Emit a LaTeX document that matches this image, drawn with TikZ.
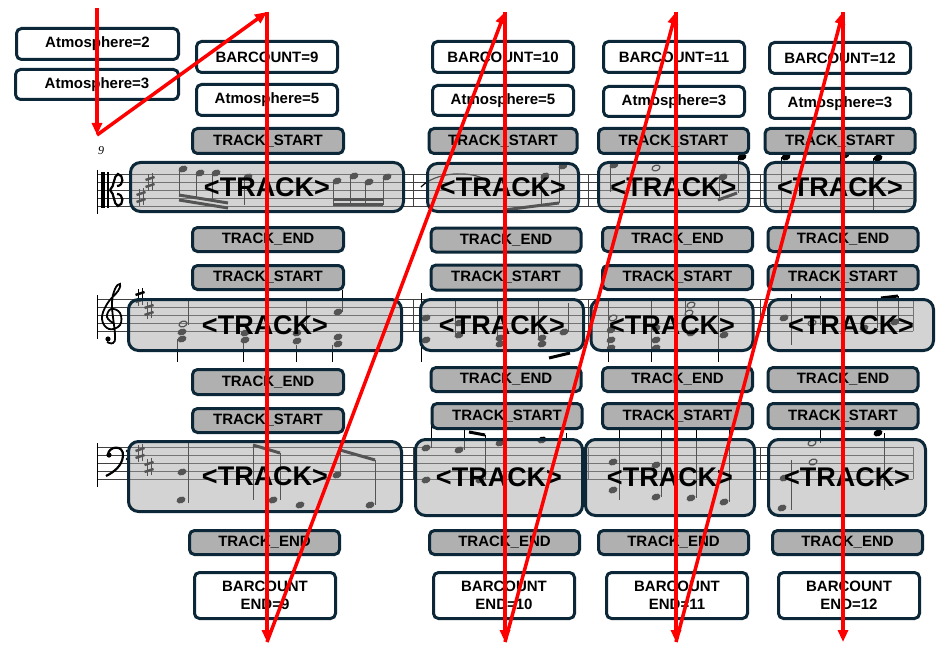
\documentclass[tikz,border=0pt]{standalone}
\usepackage{fontspec}
\setmainfont{Liberation Sans}
\newfontfamily\numfont{Liberation Serif}
\usetikzlibrary{arrows.meta}
\definecolor{boxline}{RGB}{12,40,56}
\definecolor{markgray}{RGB}{176,176,176}
\definecolor{trackgray}{RGB}{168,168,168}
\tikzset{
  sz/.style 2 args={minimum width=#1,minimum height=#2},
  infobox/.style={draw=boxline,line width=3pt,rounded corners=5pt,fill=white,
    inner sep=0pt,align=center,font=\fontsize{15}{18}\selectfont\bfseries},
  markbox/.style={infobox,fill=markgray},
  trackbox/.style={draw=boxline,line width=3pt,rounded corners=10pt,fill=trackgray,
    fill opacity=0.5,text opacity=1,inner sep=0pt,font=\fontsize{27}{30}\selectfont\bfseries},
  flow/.style={red,line width=3.5pt,-{Triangle[length=12pt,width=10pt]}},
  staffline/.style={black!75,line width=0.9pt},
  sharpsym/.pic={
    \draw[line width=0.9pt] (-2,-8) -- (-2,9) (2,-9) -- (2,8);
    \draw[line width=2.4pt] (-4.5,-2) -- (4.5,-5) (-4.5,5) -- (4.5,2);
  }
}
\begin{document}
\begin{tikzpicture}[x=1pt,y=-1pt]
\useasboundingbox (0,0) rectangle (949,655);

% staves, bar lines, clefs
\foreach \s in {174,299,447}{
  \foreach \k in {0,...,4} \draw[staffline] (97,{\s+8*\k}) -- (913,{\s+8*\k});
  \foreach \x in {413,588,760,913} \draw[staffline] (\x,\s) -- (\x,{\s+32});
  \draw[line width=1pt] (97,{\s-4}) -- (97,{\s+40});
}
\fill (101,172) rectangle (105,208);
\fill (107,172) rectangle (108.5,208);
\draw[line width=2.2pt] (110,190) .. controls (115,186) and (113,176) .. (118,174) .. controls (124,175) and (124,186) .. (117,186);
\draw[line width=2.2pt] (110,190) .. controls (115,194) and (113,204) .. (118,206) .. controls (124,205) and (124,194) .. (117,194);
\draw[line width=1.8pt] plot[smooth,tension=0.7] coordinates {(113,323) (107,317) (111,309) (120,313) (120,325) (109,329) (102,319) (107,304) (118,291) (120,284) (115,289) (112,305) (115,335) (113,343) (107,342)};
\fill (108,339) circle (2.6);
\fill (109,455) circle (2.6);
\draw[line width=2.2pt] (108,455) .. controls (108,446) and (124,444) .. (123,456) .. controls (122,466) and (114,472) .. (106,476);
\fill (127,451) circle (1.4) (127,459) circle (1.4);
\foreach \x/\y [count=\i] in {141/197,150/182,140/297,149/310,140/453,149/467}
  \pic (sharp\i) at (\x,\y) {sharpsym};
\node[font=\numfont\itshape\fontsize{12}{12}\selectfont] (barnum) at (101,151) {9};

% notes
\foreach \x/\y in {183/169,200/173,216/173,248/177,337/181,354/176,369/182,387/177,
  545/176,563/166,614/165,723/177,742/157,786/157,845/155,878/158,
  182/332,182/339,245/333,245/340,297/333,297/341,338/312,338/337,338/344,
  426/318,426/340,459/323,459/335,500/338,500/344,542/338,542/344,564/332,
  611/330,611/340,611/348,656/328,656/340,656/348,691/333,724/335,784/318,864/328,895/322,
  182/472,181/500,273/500,300/505,337/475,370/505,
  426/448,426/480,459/450,480/480,500/443,542/440,
  613/462,613/490,656/465,656/497,691/498,724/502,784/478,782/508,878/433}
  \fill[rotate around={20:(\x,\y)}] (\x,\y) ellipse (4.6 and 3.3);
\foreach \x/\y in {183/324,613/318,691/305,689/313,812/323,812/443,813/462,656/168}
  \draw[line width=1.2pt,rotate around={20:(\x,\y)}] (\x,\y) ellipse (4.1 and 2.8);
\foreach \x/\a/\b in {179/170/197,196/174/199,212/174/202,244/178/205,
  333/182/205,350/177/205,365/183/205,383/178/205,541/177/206,559/167/203,
  610/166/192,719/178/200,738/157/193,781/157/212,840/155/212,873/158/212,
  188/300/325,177/339/362,243/341/362,306/300/330,296/345/362,342/290/312,332/345/362,
  421/293/362,455/300/335,497/300/340,538/300/340,568/303/332,
  608/300/362,651/300/362,685/300/333,718/300/362,791/294/345,820/296/325,877/298/328,898/296/322,
  188/443/503,253/445/500,280/453/500,340/450/475,375/460/505,
  431/425/448,464/428/450,485/435/480,505/425/443,566/433/440,
  619/430/500,661/430/497,696/430/498,729/430/502,791/460/510,820/425/443,884/433/490}
  \draw[line width=0.9pt] (\x,\a) -- (\x,\b);
\foreach \a/\b/\c/\d in {179/195/228/203,179/200/228/208,333/199/383/199,333/204/383/204,
  504/210/559/203,718/200/737/193,549/358/570/353,881/298/898/296,
  253/445/280/453,340/450/375/460,469/432/485/435}
  \draw[line width=3pt] (\a,\b) -- (\c,\d);
\draw[line width=1.2pt] (421,187) .. controls (435,172) and (470,170) .. (486,180);

% column of bar 9
\node[infobox,sz={162}{31}] (atmA) at (97.5,44) {Atmosphere=2};
\node[infobox,sz={163}{30}] (atmB) at (97,84.5) {Atmosphere=3};
\node[infobox,sz={141}{31}] (bc9) at (267,57) {BARCOUNT=9};
\node[infobox,sz={141}{31}] (atm9) at (267,100) {Atmosphere=5};
\node[markbox,sz={151}{25}] (ts9a) at (268,141) {TRACK\_START};
\node[trackbox,sz={273}{49}] (trk9a) at (267,187) {<TRACK>};
\node[markbox,sz={151}{24}] (te9a) at (268,239.5) {TRACK\_END};
\node[markbox,sz={151}{24}] (ts9b) at (268,277.5) {TRACK\_START};
\node[trackbox,sz={273}{51}] (trk9b) at (265,325) {<TRACK>};
\node[markbox,sz={151}{25}] (te9b) at (268,382) {TRACK\_END};
\node[markbox,sz={151}{24}] (ts9c) at (268,420.5) {TRACK\_START};
\node[trackbox,sz={273}{70}] (trk9c) at (265,476.5) {<TRACK>};
\node[markbox,sz={150}{24}] (te9c) at (264.5,542.5) {TRACK\_END};
\node[infobox,sz={141}{46}] (bce9) at (265,595.5) {BARCOUNT\\END=9};

% column of bar 10
\node[infobox,sz={141}{31}] (bc10) at (503,57) {BARCOUNT=10};
\node[infobox,sz={141}{30}] (atm10) at (503,100.5) {Atmosphere=5};
\node[markbox,sz={148}{25}] (ts10a) at (503,141) {TRACK\_START};
\node[trackbox,sz={151}{48}] (trk10a) at (503,187.5) {<TRACK>};
\node[markbox,sz={150}{24}] (te10a) at (506,240) {TRACK\_END};
\node[markbox,sz={150}{25}] (ts10b) at (506,277.5) {TRACK\_START};
\node[trackbox,sz={163}{51}] (trk10b) at (502,325) {<TRACK>};
\node[markbox,sz={150}{24}] (te10b) at (506,379.5) {TRACK\_END};
\node[markbox,sz={150}{25}] (ts10c) at (507,416) {TRACK\_START};
\node[trackbox,sz={167}{76}] (trk10c) at (499,477.5) {<TRACK>};
\node[markbox,sz={150}{24}] (te10c) at (504.5,542.5) {TRACK\_END};
\node[infobox,sz={141}{46}] (bce10) at (504,595.5) {BARCOUNT\\END=10};

% column of bar 11
\node[infobox,sz={141}{31}] (bc11) at (674,57) {BARCOUNT=11};
\node[infobox,sz={141}{30}] (atm11) at (674,101.5) {Atmosphere=3};
\node[markbox,sz={150}{25}] (ts11a) at (673.5,141) {TRACK\_START};
\node[trackbox,sz={150}{49}] (trk11a) at (673.5,187) {<TRACK>};
\node[markbox,sz={150}{24}] (te11a) at (677.5,239.5) {TRACK\_END};
\node[markbox,sz={150}{24}] (ts11b) at (677.5,277.5) {TRACK\_START};
\node[trackbox,sz={162}{51}] (trk11b) at (672,325) {<TRACK>};
\node[markbox,sz={150}{24}] (te11b) at (677.5,379.5) {TRACK\_END};
\node[markbox,sz={150}{25}] (ts11c) at (677.5,416) {TRACK\_START};
\node[trackbox,sz={169}{76}] (trk11c) at (670,477.5) {<TRACK>};
\node[markbox,sz={150}{24}] (te11c) at (673.5,542.5) {TRACK\_END};
\node[infobox,sz={141}{46}] (bce11) at (677,595.5) {BARCOUNT\\END=11};

% column of bar 12
\node[infobox,sz={141}{31}] (bc12) at (840,58) {BARCOUNT=12};
\node[infobox,sz={141}{30}] (atm12) at (840,103.5) {Atmosphere=3};
\node[markbox,sz={150}{25}] (ts12a) at (840,141) {TRACK\_START};
\node[trackbox,sz={150}{49}] (trk12a) at (840,187) {<TRACK>};
\node[markbox,sz={150}{24}] (te12a) at (843,239.5) {TRACK\_END};
\node[markbox,sz={150}{24}] (ts12b) at (843,277.5) {TRACK\_START};
\node[trackbox,sz={165}{51}] (trk12b) at (851,325) {<TRACK>};
\node[markbox,sz={150}{24}] (te12b) at (843,379.5) {TRACK\_END};
\node[markbox,sz={150}{25}] (ts12c) at (843,416) {TRACK\_START};
\node[trackbox,sz={157}{76}] (trk12c) at (847,477.5) {<TRACK>};
\node[markbox,sz={150}{24}] (te12c) at (847.5,542.5) {TRACK\_END};
\node[infobox,sz={141}{46}] (bce12) at (849,595.5) {BARCOUNT\\END=12};

% reading order
\coordinate (s0) at (97,8);   \coordinate (e0) at (97,135);
\coordinate (s1) at (267,12); \coordinate (e1) at (267,642);
\coordinate (s2) at (505,12); \coordinate (e2) at (505,642);
\coordinate (s3) at (676,12); \coordinate (e3) at (676,642);
\coordinate (s4) at (843,12); \coordinate (e4) at (843,642);
\draw[flow] (s0) -- (e0);
\draw[flow] (e0) -- (s1);
\draw[flow] (s1) -- (e1);
\draw[flow] (e1) -- (s2);
\draw[flow] (s2) -- (e2);
\draw[flow] (e2) -- (s3);
\draw[flow] (s3) -- (e3);
\draw[flow] (e3) -- (s4);
\draw[flow] (s4) -- (e4);
\end{tikzpicture}
\end{document}
